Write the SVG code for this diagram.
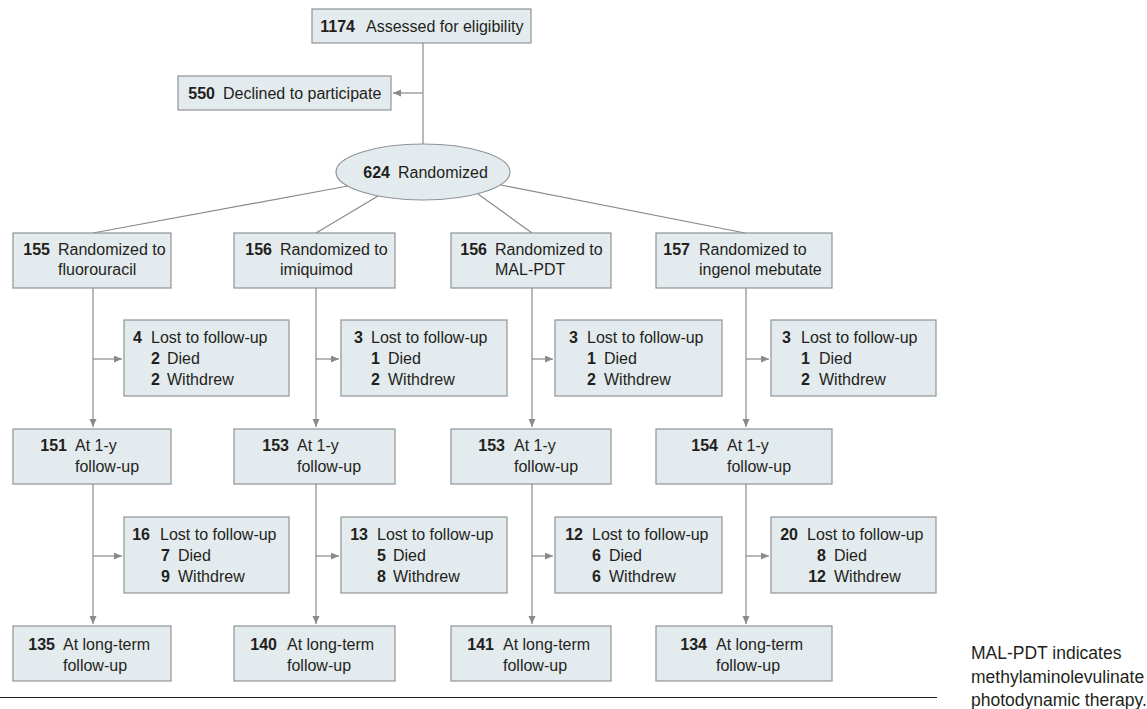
<svg xmlns="http://www.w3.org/2000/svg" width="1147" height="709" viewBox="0 0 1147 709">
<style>
.box{fill:#e4ebee;stroke:#8f9396;stroke-width:1.2}
.t{font-family:"Liberation Sans",Arial,sans-serif;font-size:16px;fill:#231f20}
.n{font-weight:bold;text-anchor:end}
.c{fill:none;stroke:#8a8a8a;stroke-width:1.2}
.cap{font-family:"Liberation Sans",Arial,sans-serif;font-size:17.5px;fill:#231f20}
</style>
<defs>
<marker id="ah" markerUnits="userSpaceOnUse" markerWidth="9" markerHeight="8" refX="8" refY="3.5" orient="auto">
<path d="M0,0 L8,3.5 L0,7 z" fill="#8a8a8a"/>
</marker>
</defs>
<rect width="1147" height="709" fill="#ffffff"/>
<g id="connectors">
<path class="c" d="M423,43 V144"/>
<path class="c" d="M423,93 H393" marker-end="url(#ah)"/>
<path class="c" d="M348,186 L93,233"/>
<path class="c" d="M378,196 L316,233"/>
<path class="c" d="M478,194 L532,233"/>
<path class="c" d="M501,185 L745,233"/>
<path class="c" d="M93,288 V427" marker-end="url(#ah)"/>
<path class="c" d="M316,288 V427" marker-end="url(#ah)"/>
<path class="c" d="M532,288 V427" marker-end="url(#ah)"/>
<path class="c" d="M746,288 V427" marker-end="url(#ah)"/>
<path class="c" d="M93,359 H122" marker-end="url(#ah)"/>
<path class="c" d="M316,359 H339" marker-end="url(#ah)"/>
<path class="c" d="M532,359 H553" marker-end="url(#ah)"/>
<path class="c" d="M746,359 H769" marker-end="url(#ah)"/>
<path class="c" d="M93,484 V624" marker-end="url(#ah)"/>
<path class="c" d="M316,484 V624" marker-end="url(#ah)"/>
<path class="c" d="M532,484 V624" marker-end="url(#ah)"/>
<path class="c" d="M746,484 V624" marker-end="url(#ah)"/>
<path class="c" d="M93,556 H122" marker-end="url(#ah)"/>
<path class="c" d="M316,556 H339" marker-end="url(#ah)"/>
<path class="c" d="M532,556 H553" marker-end="url(#ah)"/>
<path class="c" d="M746,556 H769" marker-end="url(#ah)"/>
</g>
<g id="assessed">
<rect class="box" x="312" y="9" width="219" height="34"/>
<text class="t n" x="355" y="32">1174</text><text class="t" x="366" y="32">Assessed for eligibility</text>
</g>
<g id="declined">
<rect class="box" x="178" y="76" width="213" height="34"/>
<text class="t n" x="215" y="99">550</text><text class="t" x="223" y="99">Declined to participate</text>
</g>
<g id="randomized">
<ellipse class="box" cx="423" cy="172" rx="87" ry="28"/>
<text class="t n" x="390" y="178">624</text><text class="t" x="398" y="178">Randomized</text>
</g>
<g id="rand-fluorouracil">
<rect class="box" x="13" y="233" width="158" height="55"/>
<text class="t n" x="50" y="255">155</text><text class="t" x="58" y="255">Randomized to</text><text class="t" x="58" y="275">fluorouracil</text>
</g>
<g id="rand-imiquimod">
<rect class="box" x="234" y="233" width="161" height="55"/>
<text class="t n" x="272" y="255">156</text><text class="t" x="280" y="255">Randomized to</text><text class="t" x="280" y="275">imiquimod</text>
</g>
<g id="rand-malpdt">
<rect class="box" x="451" y="233" width="160" height="55"/>
<text class="t n" x="487" y="255">156</text><text class="t" x="495" y="255">Randomized to</text><text class="t" x="495" y="275">MAL-PDT</text>
</g>
<g id="rand-ingenol">
<rect class="box" x="656" y="233" width="176" height="55"/>
<text class="t n" x="690" y="255">157</text><text class="t" x="699" y="255">Randomized to</text><text class="t" x="699" y="275">ingenol mebutate</text>
</g>
<g id="lost1-fluorouracil">
<rect class="box" x="124" y="320" width="165" height="76"/>
<text class="t n" x="142" y="343">4</text><text class="t" x="151" y="343">Lost to follow-up</text>
<text class="t n" x="160" y="364">2</text><text class="t" x="167" y="364">Died</text>
<text class="t n" x="160" y="385">2</text><text class="t" x="167" y="385">Withdrew</text>
</g>
<g id="lost1-imiquimod">
<rect class="box" x="341" y="320" width="166" height="76"/>
<text class="t n" x="363" y="343">3</text><text class="t" x="371" y="343">Lost to follow-up</text>
<text class="t n" x="380" y="364">1</text><text class="t" x="388" y="364">Died</text>
<text class="t n" x="380" y="385">2</text><text class="t" x="388" y="385">Withdrew</text>
</g>
<g id="lost1-malpdt">
<rect class="box" x="555" y="320" width="167" height="76"/>
<text class="t n" x="578" y="343">3</text><text class="t" x="587" y="343">Lost to follow-up</text>
<text class="t n" x="596" y="364">1</text><text class="t" x="604" y="364">Died</text>
<text class="t n" x="596" y="385">2</text><text class="t" x="604" y="385">Withdrew</text>
</g>
<g id="lost1-ingenol">
<rect class="box" x="771" y="320" width="165" height="76"/>
<text class="t n" x="791" y="343">3</text><text class="t" x="801" y="343">Lost to follow-up</text>
<text class="t n" x="810" y="364">1</text><text class="t" x="819" y="364">Died</text>
<text class="t n" x="810" y="385">2</text><text class="t" x="819" y="385">Withdrew</text>
</g>
<g id="y1-fluorouracil">
<rect class="box" x="13" y="429" width="158" height="55"/>
<text class="t n" x="67" y="451">151</text><text class="t" x="75" y="451">At 1-y</text><text class="t" x="75" y="472">follow-up</text>
</g>
<g id="y1-imiquimod">
<rect class="box" x="234" y="429" width="161" height="55"/>
<text class="t n" x="289" y="451">153</text><text class="t" x="297" y="451">At 1-y</text><text class="t" x="297" y="472">follow-up</text>
</g>
<g id="y1-malpdt">
<rect class="box" x="451" y="429" width="160" height="55"/>
<text class="t n" x="505" y="451">153</text><text class="t" x="514" y="451">At 1-y</text><text class="t" x="514" y="472">follow-up</text>
</g>
<g id="y1-ingenol">
<rect class="box" x="656" y="429" width="176" height="55"/>
<text class="t n" x="718" y="451">154</text><text class="t" x="727" y="451">At 1-y</text><text class="t" x="727" y="472">follow-up</text>
</g>
<g id="lost2-fluorouracil">
<rect class="box" x="124" y="517" width="165" height="76"/>
<text class="t n" x="150" y="540">16</text><text class="t" x="160" y="540">Lost to follow-up</text>
<text class="t n" x="170" y="561">7</text><text class="t" x="178" y="561">Died</text>
<text class="t n" x="170" y="582">9</text><text class="t" x="178" y="582">Withdrew</text>
</g>
<g id="lost2-imiquimod">
<rect class="box" x="341" y="517" width="166" height="76"/>
<text class="t n" x="368" y="540">13</text><text class="t" x="377" y="540">Lost to follow-up</text>
<text class="t n" x="386" y="561">5</text><text class="t" x="393" y="561">Died</text>
<text class="t n" x="386" y="582">8</text><text class="t" x="393" y="582">Withdrew</text>
</g>
<g id="lost2-malpdt">
<rect class="box" x="555" y="517" width="167" height="76"/>
<text class="t n" x="583" y="540">12</text><text class="t" x="592" y="540">Lost to follow-up</text>
<text class="t n" x="601" y="561">6</text><text class="t" x="609" y="561">Died</text>
<text class="t n" x="601" y="582">6</text><text class="t" x="609" y="582">Withdrew</text>
</g>
<g id="lost2-ingenol">
<rect class="box" x="771" y="517" width="165" height="76"/>
<text class="t n" x="798" y="540">20</text><text class="t" x="807" y="540">Lost to follow-up</text>
<text class="t n" x="826" y="561">8</text><text class="t" x="834" y="561">Died</text>
<text class="t n" x="826" y="582">12</text><text class="t" x="834" y="582">Withdrew</text>
</g>
<g id="lt-fluorouracil">
<rect class="box" x="13" y="626" width="158" height="55"/>
<text class="t n" x="55" y="650">135</text><text class="t" x="63" y="650">At long-term</text><text class="t" x="63" y="671">follow-up</text>
</g>
<g id="lt-imiquimod">
<rect class="box" x="234" y="626" width="161" height="55"/>
<text class="t n" x="277" y="650">140</text><text class="t" x="287" y="650">At long-term</text><text class="t" x="287" y="671">follow-up</text>
</g>
<g id="lt-malpdt">
<rect class="box" x="451" y="626" width="160" height="55"/>
<text class="t n" x="494" y="650">141</text><text class="t" x="503" y="650">At long-term</text><text class="t" x="503" y="671">follow-up</text>
</g>
<g id="lt-ingenol">
<rect class="box" x="656" y="626" width="176" height="55"/>
<text class="t n" x="707" y="650">134</text><text class="t" x="716" y="650">At long-term</text><text class="t" x="716" y="671">follow-up</text>
</g>
<line x1="0" y1="697.5" x2="937" y2="697.5" stroke="#231f20" stroke-width="1"/>
<g id="caption">
<text class="cap" x="971" y="659">MAL-PDT indicates</text>
<text class="cap" x="971" y="683">methylaminolevulinate</text>
<text class="cap" x="971" y="706">photodynamic therapy.</text>
</g>
</svg>
